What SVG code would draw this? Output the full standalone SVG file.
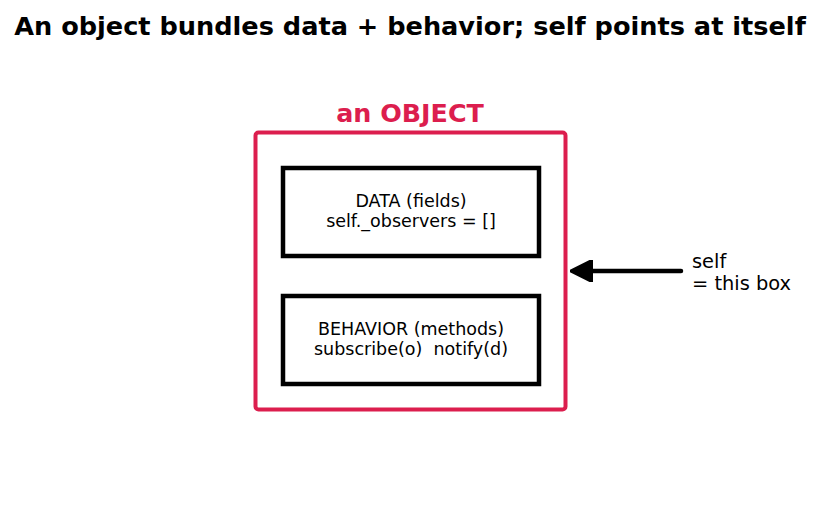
<svg xmlns="http://www.w3.org/2000/svg" width="821" height="512" viewBox="0 0 821 512">
<style>
text{font-family:"DejaVu Sans","Liberation Sans",sans-serif;}
.title{font-size:25.6px;font-weight:bold;fill:#000;}
.lbl{font-size:17.5px;fill:#000;text-anchor:middle;white-space:pre;}
.side{font-size:19.4px;fill:#000;}
.inner{fill:#fff;stroke:#000;stroke-width:4.5;}
</style>
<defs>
<marker id="ah" viewBox="0 0 10 10" refX="2" refY="5" markerWidth="5" markerHeight="5" orient="auto">
<path d="M0,0 L10,5 L0,10 z" fill="#000" stroke="#000" stroke-linejoin="round"/>
</marker>
</defs>
<rect width="821" height="512" fill="#fff"/>
<text class="title" x="410" y="35" text-anchor="middle">An object bundles data + behavior; self points at itself</text>
<g id="object">
<text x="410" y="122" text-anchor="middle" style="font-size:25.4px;font-weight:bold;fill:#DC1E4E;">an OBJECT</text>
<rect x="255.5" y="132.5" width="310" height="277" rx="3" fill="#fff" stroke="#DC1E4E" stroke-width="4"/>
</g>
<g id="data">
<rect class="inner" x="283" y="168" width="256" height="88"/>
<text class="lbl" x="411" y="207">DATA (fields)</text>
<text class="lbl" x="411" y="227">self._observers = []</text>
</g>
<g id="behavior">
<rect class="inner" x="283" y="296" width="256" height="88"/>
<text class="lbl" x="411" y="335">BEHAVIOR (methods)</text>
<text class="lbl" x="411" y="355" xml:space="preserve">subscribe(o)  notify(d)</text>
</g>
<g id="connectors">
<line x1="681" y1="271" x2="588" y2="271" stroke="#000" stroke-width="4.5" stroke-linecap="round" marker-end="url(#ah)"/>
</g>
<g id="self-label">
<text class="side" x="692" y="268">self</text>
<text class="side" x="692" y="290">= this box</text>
</g>
</svg>
